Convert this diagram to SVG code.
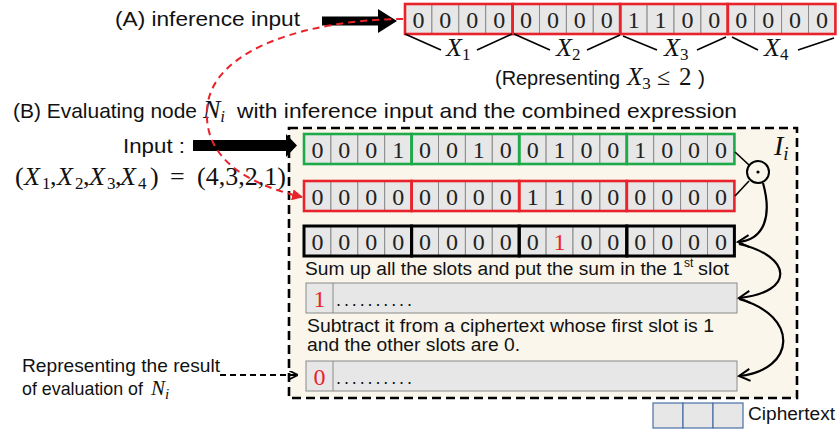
<svg xmlns="http://www.w3.org/2000/svg" xmlns:xlink="http://www.w3.org/1999/xlink" width="838" height="430" viewBox="0 0 838 430">
<style>
.sans{font-family:"Liberation Sans",Arial,sans-serif;fill:#111}
.serif{font-family:"Liberation Serif","Times New Roman",serif;fill:#111}
.it{font-style:italic}
.dig{font-family:"Liberation Serif","Times New Roman",serif;font-size:24px;fill:#222;text-anchor:middle}
.cell{fill:#e7e7e7;stroke:#8a8a8a;stroke-width:1}
.gG{fill:none;stroke:#1faa4a;stroke-width:2.6}
.gR{fill:none;stroke:#e8232b;stroke-width:2.6}
.gK{fill:none;stroke:#000;stroke-width:3}
.red{fill:#e8232b}
.conn{fill:none;stroke:#000;stroke-width:2.2}
.brace{fill:none;stroke:#000;stroke-width:1.6}
</style>
<defs>
<g id="cells16">
<rect class="cell" x="0" y="0" width="26.9" height="30"/><rect class="cell" x="26.9" y="0" width="26.9" height="30"/><rect class="cell" x="53.8" y="0" width="26.9" height="30"/><rect class="cell" x="80.7" y="0" width="26.9" height="30"/>
<rect class="cell" x="107.6" y="0" width="26.9" height="30"/><rect class="cell" x="134.5" y="0" width="26.9" height="30"/><rect class="cell" x="161.4" y="0" width="26.9" height="30"/><rect class="cell" x="188.3" y="0" width="26.9" height="30"/>
<rect class="cell" x="215.2" y="0" width="26.9" height="30"/><rect class="cell" x="242.1" y="0" width="26.9" height="30"/><rect class="cell" x="269" y="0" width="26.9" height="30"/><rect class="cell" x="295.9" y="0" width="26.9" height="30"/>
<rect class="cell" x="322.8" y="0" width="26.9" height="30"/><rect class="cell" x="349.7" y="0" width="26.9" height="30"/><rect class="cell" x="376.6" y="0" width="26.9" height="30"/><rect class="cell" x="403.5" y="0" width="26.9" height="30"/>
</g>
<marker id="chev" viewBox="0 0 14 14" refX="12" refY="7" markerWidth="14" markerHeight="14" markerUnits="userSpaceOnUse" orient="auto">
<path d="M1,1 L12,7 L1,13" fill="none" stroke="#000" stroke-width="2"/>
</marker>
<marker id="redtri" viewBox="0 0 10 10" refX="9" refY="5" markerWidth="11" markerHeight="11" markerUnits="userSpaceOnUse" orient="auto">
<path d="M0,0 L10,5 L0,10 z" fill="#e8232b"/>
</marker>
<marker id="blktri" viewBox="0 0 10 10" refX="9" refY="5" markerWidth="9" markerHeight="9" markerUnits="userSpaceOnUse" orient="auto">
<path d="M0,0 L10,5 L0,10" fill="none" stroke="#000" stroke-width="2"/>
</marker>
</defs>

<!-- Node I_i background -->
<g id="nodeIi">
<rect x="289" y="128" width="508" height="270" fill="#faf6eb" stroke="#000" stroke-width="2.6" stroke-dasharray="9,5"/>
<text class="serif" x="774" y="155" font-size="28"><tspan class="it">I</tspan><tspan class="it" font-size="19" dy="5">i</tspan></text>
</g>

<!-- (A) inference input -->
<g id="labelA">
<text class="sans" x="115" y="26" font-size="21" textLength="185" lengthAdjust="spacingAndGlyphs">(A) inference input</text>
</g>
<g id="arrowA">
<polygon points="322,16.5 378,16.5 378,9 397,21 378,33 378,25.5 322,25.5" fill="#000"/>
</g>
<g id="inferenceInput">
<use xlink:href="#cells16" x="405" y="4"/>
<rect class="gR" x="405" y="4" width="107.6" height="30"/>
<rect class="gR" x="512.6" y="4" width="107.6" height="30"/>
<rect class="gR" x="620.2" y="4" width="107.6" height="30"/>
<rect class="gR" x="727.8" y="4" width="107.6" height="30"/>
<text class="dig" x="418.45 445.35 472.25 499.15 526.05 552.95 579.85 606.75 633.65 660.55 687.45 714.35 741.25 768.15 795.05 821.95" y="28">0000000011000000</text>
</g>
<g id="braces">
<path class="brace" d="M405,34 L441,50 M477,50 L512,34 M514,34 L550,50 M587,50 L620,35 M623,36 L657,50 M697,50 L726,37 M732,37 L758,50 M798,50 L834,38"/>
<text class="serif" x="446" y="56" font-size="26"><tspan class="it">X</tspan><tspan font-size="17" dy="4">1</tspan></text>
<text class="serif" x="556" y="56" font-size="26"><tspan class="it">X</tspan><tspan font-size="17" dy="4">2</tspan></text>
<text class="serif" x="664" y="56" font-size="26"><tspan class="it">X</tspan><tspan font-size="17" dy="4">3</tspan></text>
<text class="serif" x="764" y="56" font-size="26"><tspan class="it">X</tspan><tspan font-size="17" dy="4">4</tspan></text>
</g>
<g id="representing">
<text class="sans" x="495" y="85" font-size="21" textLength="125" lengthAdjust="spacingAndGlyphs">(Representing</text>
<text class="serif" x="627" y="85" font-size="25"><tspan class="it">X</tspan><tspan font-size="17" dy="4">3</tspan></text>
<text class="serif" x="657" y="85" font-size="24">≤</text>
<text class="serif" x="679" y="85" font-size="25">2</text>
<text class="sans" x="698" y="85" font-size="21">)</text>
</g>

<!-- (B) title -->
<g id="labelB">
<text class="sans" x="13" y="118" font-size="21" textLength="184" lengthAdjust="spacingAndGlyphs">(B) Evaluating node</text>
<text class="serif" x="203" y="118" font-size="26"><tspan class="it">N</tspan><tspan class="it" font-size="17" dy="4">i</tspan></text>
<text class="sans" x="237" y="118" font-size="21" textLength="500" lengthAdjust="spacingAndGlyphs">with inference input and the combined expression</text>
</g>

<!-- Input label -->
<g id="inputLabel">
<text class="sans" x="123" y="153" font-size="21" textLength="62" lengthAdjust="spacingAndGlyphs">Input :</text>
<text class="serif" y="185" font-size="26"><tspan x="15">(</tspan><tspan x="24" class="it">X</tspan><tspan x="42" font-size="17" dy="4">1</tspan><tspan x="50" dy="-4">,</tspan><tspan x="57" class="it">X</tspan><tspan x="75" font-size="17" dy="4">2</tspan><tspan x="83" dy="-4">,</tspan><tspan x="89" class="it">X</tspan><tspan x="107" font-size="17" dy="4">3</tspan><tspan x="115" dy="-4">,</tspan><tspan x="120" class="it">X</tspan><tspan x="138" font-size="17" dy="4">4</tspan><tspan x="150" dy="-4">)</tspan><tspan x="170">=</tspan><tspan x="197">(4,3,2,1)</tspan></text>
</g>
<g id="inputArrow">
<polygon points="193,140 286,140 286,134 297,145.5 286,157 286,151 193,151" fill="#000"/>
</g>

<g id="row1">
<use xlink:href="#cells16" x="304" y="134"/>
<rect class="gG" x="304" y="134" width="107.6" height="30"/>
<rect class="gG" x="411.6" y="134" width="107.6" height="30"/>
<rect class="gG" x="519.2" y="134" width="107.6" height="30"/>
<rect class="gG" x="626.8" y="134" width="107.6" height="30"/>
<text class="dig" x="317.45 344.35 371.25 398.15 425.05 451.95 478.85 505.75 532.65 559.55 586.45 613.35 640.25 667.15 694.05 720.95" y="158">0001001001001000</text>
</g>
<g id="row2">
<use xlink:href="#cells16" x="304" y="181"/>
<rect class="gR" x="304" y="181" width="107.6" height="30"/>
<rect class="gR" x="411.6" y="181" width="107.6" height="30"/>
<rect class="gR" x="519.2" y="181" width="107.6" height="30"/>
<rect class="gR" x="626.8" y="181" width="107.6" height="30"/>
<text class="dig" x="317.45 344.35 371.25 398.15 425.05 451.95 478.85 505.75 532.65 559.55 586.45 613.35 640.25 667.15 694.05 720.95" y="205">0000000011000000</text>
</g>
<g id="row3">
<use xlink:href="#cells16" x="304" y="226"/>
<rect class="gK" x="304" y="226" width="107.6" height="30"/>
<rect class="gK" x="411.6" y="226" width="107.6" height="30"/>
<rect class="gK" x="519.2" y="226" width="107.6" height="30"/>
<rect class="gK" x="626.8" y="226" width="107.6" height="30"/>
<text class="dig" x="317.45 344.35 371.25 398.15 425.05 451.95 478.85 505.75 532.65 559.55 586.45 613.35 640.25 667.15 694.05 720.95" y="250">000000000<tspan class="red">1</tspan>000000</text>
</g>
<g id="mult">
<circle cx="758" cy="172" r="11" fill="none" stroke="#000" stroke-width="2"/>
<circle cx="758" cy="172" r="1.6" fill="#000"/>
</g>

<g id="sumText">
<text class="sans" x="305" y="275" font-size="18" textLength="378" lengthAdjust="spacingAndGlyphs">Sum up all the slots and put the sum in the 1</text>
<text class="sans" x="684" y="267" font-size="12">st</text>
<text class="sans" x="698" y="275" font-size="18" textLength="31" lengthAdjust="spacingAndGlyphs">slot</text>
</g>
<g id="row4">
<rect class="cell" x="306" y="283" width="431" height="30"/>
<line x1="333" y1="283" x2="333" y2="313" stroke="#8a8a8a" stroke-width="1"/>
<text class="dig" x="319.5" y="307" style="fill:#e8232b">1</text>
<text class="sans" x="336" y="306" font-size="18" textLength="76" lengthAdjust="spacing">..........</text>
</g>
<g id="subText">
<text class="sans" x="307" y="332" font-size="17.5" textLength="407" lengthAdjust="spacingAndGlyphs">Subtract it from a ciphertext whose first slot is 1</text>
<text class="sans" x="307" y="351" font-size="17.5" textLength="213" lengthAdjust="spacingAndGlyphs">and the other slots are 0.</text>
</g>
<g id="row5">
<rect class="cell" x="306" y="361" width="431" height="30"/>
<line x1="333" y1="361" x2="333" y2="391" stroke="#8a8a8a" stroke-width="1"/>
<text class="dig" x="319.5" y="385" style="fill:#e8232b">0</text>
<text class="sans" x="336" y="384" font-size="18" textLength="76" lengthAdjust="spacing">..........</text>
</g>

<g id="resultLabel">
<text class="sans" x="22" y="372" font-size="19" textLength="198" lengthAdjust="spacingAndGlyphs">Representing the result</text>
<text class="sans" x="22" y="395" font-size="19" textLength="121" lengthAdjust="spacingAndGlyphs">of evaluation of</text>
<text class="serif" x="151" y="395" font-size="21"><tspan class="it">N</tspan><tspan class="it" font-size="15" dy="4">i</tspan></text>
</g>

<g id="legend">
<rect x="653" y="403" width="30" height="25" fill="#e7e7e7" stroke="#4a6fa5" stroke-width="1.2"/>
<rect x="683" y="403" width="30" height="25" fill="#e7e7e7" stroke="#4a6fa5" stroke-width="1.2"/>
<rect x="713" y="403" width="30" height="25" fill="#e7e7e7" stroke="#4a6fa5" stroke-width="1.2"/>
<text class="sans" x="748" y="420" font-size="18" textLength="87" lengthAdjust="spacingAndGlyphs">Ciphertext</text>
</g>

<g id="connectors">
<path d="M403,19 C320,19 210,45 207,110 C204,160 250,185 302,197" fill="none" stroke="#e8232b" stroke-width="2" stroke-dasharray="7,5" marker-end="url(#redtri)"/>
<line x1="735" y1="152" x2="749" y2="165" stroke="#000" stroke-width="1.6"/>
<line x1="735" y1="196" x2="749" y2="181" stroke="#000" stroke-width="1.6"/>
<path class="conn" d="M763,183 C772,215 765,240 738,242" marker-end="url(#chev)"/>
<path class="conn" d="M739,244 C792,256 796,292 739,298" marker-end="url(#chev)"/>
<path class="conn" d="M739,299 C800,316 796,370 739,376" marker-end="url(#chev)"/>
<line x1="220" y1="375" x2="297" y2="375" stroke="#000" stroke-width="2" stroke-dasharray="6,4" marker-end="url(#blktri)"/>
</g>
</svg>
